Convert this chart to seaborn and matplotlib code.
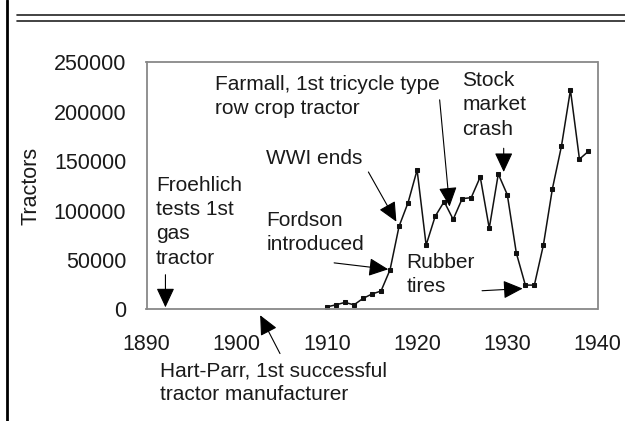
import matplotlib
matplotlib.use("Agg")
import matplotlib.pyplot as plt
from matplotlib.lines import Line2D
import seaborn as sns
import pandas as pd

# ---- data ----
years = list(range(1910, 1940))
tractors = [2500, 4500, 7000, 4500, 11000, 15500, 18500, 40000, 84000, 108000,
            141000, 65000, 94000, 109000, 91000, 112000, 113000, 134000, 82000, 137000,
            116000, 57000, 24500, 24500, 65000, 122000, 165000, 222000, 152000, 160000]
x_ticks = [1890, 1900, 1910, 1920, 1930, 1940]
y_ticks = [0, 50000, 100000, 150000, 200000, 250000]
y_label = "Tractors"
notes = ["Froehlich\ntests 1st\ngas\ntractor",
         "Hart-Parr, 1st successful\ntractor manufacturer",
         "Fordson\nintroduced",
         "WWI ends",
         "Farmall, 1st tricycle type\nrow crop tractor",
         "Stock\nmarket\ncrash",
         "Rubber\ntires"]

sns.set_style("white")
plt.rcParams['font.family'] = ['Liberation Sans', 'DejaVu Sans']

df = pd.DataFrame({"year": years, "tractors": tractors})

fig = plt.figure(figsize=(6.25, 4.21), dpi=100)
ax = fig.add_axes([0.2344, 0.2653, 0.7216, 0.5867])

sns.lineplot(data=df, x="year", y="tractors", ax=ax, color="#111111", lw=1.1,
             marker="s", markersize=3.4, markeredgecolor="#111111", markerfacecolor="#111111")

ax.set_xlim(1890, 1940)
ax.set_ylim(0, 250000)
ax.set_xticks(x_ticks)
ax.set_xticks(range(1890, 1941, 5), minor=True)
ax.set_yticks(y_ticks)
ax.set_yticks(range(0, 250001, 25000), minor=True)
ax.set_xticklabels([str(t) for t in x_ticks])
ax.set_yticklabels([str(t) for t in y_ticks])
ax.set_xlabel("")
ax.set_ylabel(y_label, fontsize=15.5, color="#1a1a1a")
ax.yaxis.set_label_coords(-0.232, 0.5)

tcol = "#1a1a1a"
ax.tick_params(axis="both", which="both", direction="inout", color="#888888", width=1.0)
ax.tick_params(axis="both", which="major", length=5, labelsize=15.5, labelcolor=tcol)
ax.tick_params(axis="both", which="minor", length=5)
ax.tick_params(axis="x", which="major", pad=15)
ax.tick_params(axis="y", which="major", pad=12)
for s in ax.spines.values():
    s.set_visible(True)
    s.set_color("#888888")
    s.set_linewidth(1.3)

fs = 15
txt_kw = dict(fontsize=fs, color=tcol, ha="left", va="top", linespacing=1.35, clip_on=False)
ax.text(1891.05, 135000, notes[0], **txt_kw)
ax.text(1891.5, -52500, notes[1], **txt_kw)
ax.text(1903.3, 99500, notes[2], **txt_kw)
ax.text(1903.3, 162000, notes[3], **txt_kw)
ax.text(1897.6, 237000, notes[4], **txt_kw)
ax.text(1925.0, 241000, notes[5], **txt_kw)
ax.text(1918.8, 57000, notes[6], **txt_kw)

ap = dict(arrowstyle="-|>,head_length=0.6,head_width=0.28", mutation_scale=20,
          color="black", lw=0.8, shrinkA=0, shrinkB=0)
arrows = [((1892.1, 35000), (1892.1, 2000)),
          ((1904.8, -44800), (1902.6, -6000)),
          ((1910.8, 47000), (1916.8, 40500)),
          ((1914.6, 139000), (1917.7, 88700)),
          ((1922.5, 212000), (1923.6, 104000)),
          ((1929.6, 163000), (1929.6, 139000)),
          ((1927.2, 18800), (1931.7, 21000))]
for tail, tip in arrows:
    ax.annotate("", xy=tip, xytext=tail, arrowprops=ap, annotation_clip=False)

# page decorations
fig.add_artist(Line2D([0.0112, 0.0112], [0, 1], transform=fig.transFigure, color="black", lw=2.0))
fig.add_artist(Line2D([0.027, 1], [0.9644, 0.9644], transform=fig.transFigure, color="#222222", lw=1.2))
fig.add_artist(Line2D([0.027, 1], [0.950, 0.950], transform=fig.transFigure, color="#222222", lw=1.2))

fig.savefig("out.png", dpi=100)
